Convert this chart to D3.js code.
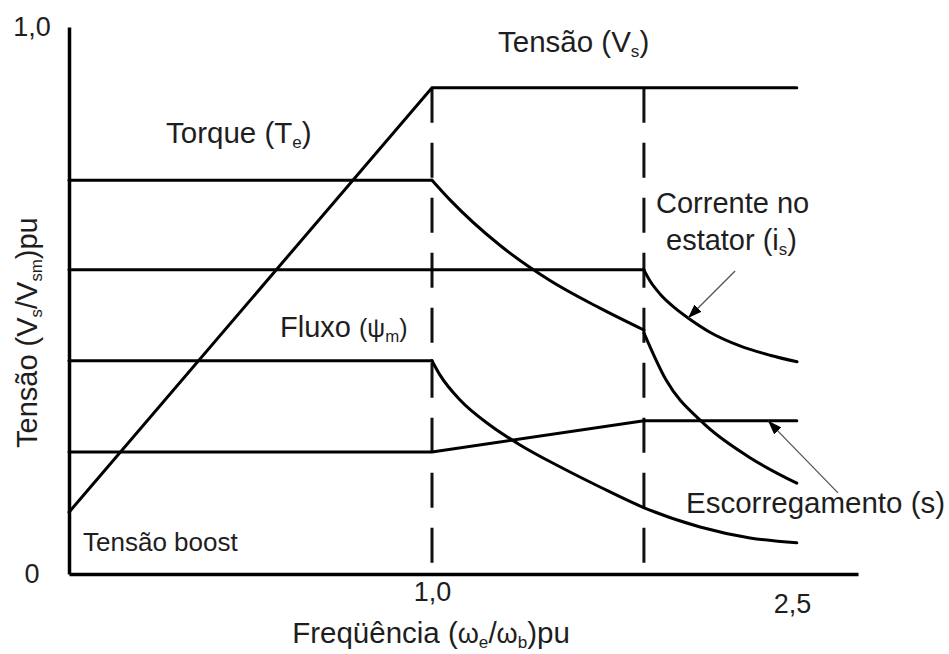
<!DOCTYPE html>
<html>
<head>
<meta charset="utf-8">
<script src="https://cdn.jsdelivr.net/npm/d3@7"></script>
<style>
  html, body { margin: 0; padding: 0; background: #fff; }
  svg { display: block; }
  text { font-family: "Liberation Sans", Arial, Helvetica, sans-serif; fill: #1e1e1e; }
</style>
</head>
<body>
<svg id="chart" width="949" height="654"></svg>
<script>
// Axis ticks (per-unit frequency and voltage)
const xTickValues = [1.0, 2.5];
const xTickLabels = ["1,0", "2,5"];
const yTickValues = [0, 1.0];
const yTickLabels = ["0", "1,0"];

// Region boundaries: base speed and start of the high-speed region
const breakFreq = [1.0, 1.883];

// Stator voltage: boost at standstill, linear V/f ramp, then constant
const vsFreq = [0, 1.0, 2.52];
const vsVal  = [0.113, 0.889, 0.889];

// Torque: constant, constant-power region, high-speed region
const torqueFreq  = [0, 1.0];
const torqueVal   = [0.72, 0.72];
const torqueCpFreq = [1.0, 1.075, 1.283, 1.49, 1.70, 1.883];
const torqueCpVal  = [0.72, 0.684, 0.601, 0.537, 0.486, 0.446];
const torqueHsFreq = [1.883, 1.975, 2.125, 2.32, 2.52];
const torqueHsVal  = [0.441, 0.355, 0.278, 0.214, 0.166];

// Stator current
const currentFreq = [0, 1.883];
const currentVal  = [0.556, 0.556];
const currentHsFreq = [1.883, 1.908, 1.95, 2.013, 2.067, 2.158, 2.283, 2.408, 2.521];
const currentHsVal  = [0.556, 0.536, 0.512, 0.486, 0.468, 0.442, 0.417, 0.400, 0.388];

// Air-gap flux
const fluxFreq = [0, 1.0];
const fluxVal  = [0.39, 0.39];
const fluxWeakFreq = [1.0, 1.033, 1.117, 1.242, 1.367, 1.533, 1.70, 1.879, 2.117, 2.325, 2.52];
const fluxWeakVal  = [0.39, 0.364, 0.318, 0.272, 0.236, 0.196, 0.159, 0.122, 0.086, 0.066, 0.057];

// Slip
const slipFreq = [0, 1.0, 1.883, 2.52];
const slipVal  = [0.223, 0.223, 0.280, 0.280];

const svg = d3.select("#chart");

const x = d3.scaleLinear().domain([0, 1, 2.775]).range([69, 432, 858]);
const y = d3.scaleLinear().domain([0, 1]).range([574, 27]);

const zip = (xs, ys) => xs.map((d, i) => [d, ys[i]]);

// Arrowhead marker for the callouts
svg.append("defs").append("marker")
  .attr("id", "arrowhead")
  .attr("viewBox", "0 0 14 10")
  .attr("refX", 14).attr("refY", 5)
  .attr("markerWidth", 14).attr("markerHeight", 10)
  .attr("markerUnits", "userSpaceOnUse")
  .attr("orient", "auto")
  .append("path").attr("d", "M0,0 L14,5 L0,10 Z").attr("fill", "#000");

// Dashed region boundaries
svg.append("g").selectAll("line").data(breakFreq).join("line")
  .attr("x1", d => x(d)).attr("x2", d => x(d))
  .attr("y1", y(vsVal[1])).attr("y2", y(0))
  .attr("stroke", "#111").attr("stroke-width", 3)
  .attr("stroke-dasharray", "35,20");

// Axes
const xAxis = svg.append("g").attr("transform", `translate(0,${y(0)})`)
  .call(d3.axisBottom(x).tickValues(xTickValues).tickSize(0).tickSizeOuter(0)
    .tickPadding(8).tickFormat((d, i) => xTickLabels[i]));
const yAxis = svg.append("g").attr("transform", `translate(${x(0)},0)`)
  .call(d3.axisLeft(y).tickValues(yTickValues).tickSize(0).tickSizeOuter(0)
    .tickPadding(37).tickFormat((d, i) => yTickLabels[i]));

[xAxis, yAxis].forEach(g => {
  g.select(".domain").attr("stroke", "#000").attr("stroke-width", 3.5);
  g.selectAll("text").attr("font-size", 27).attr("fill", "#1e1e1e")
    .style("font-family", '"Liberation Sans", Arial, sans-serif');
});
xAxis.selectAll(".tick text").attr("dy", (d, i) => i === 0 ? "0.71em" : "1.15em");
yAxis.selectAll(".tick text").attr("text-anchor", "middle");

// Curves
const straight = d3.line().x(d => x(d[0])).y(d => y(d[1]));
const smooth = d3.line().x(d => x(d[0])).y(d => y(d[1])).curve(d3.curveMonotoneX);

const series = [
  [straight, zip(vsFreq, vsVal)],
  [straight, zip(torqueFreq, torqueVal)],
  [smooth, zip(torqueCpFreq, torqueCpVal)],
  [smooth, zip(torqueHsFreq, torqueHsVal)],
  [straight, zip(currentFreq, currentVal)],
  [smooth, zip(currentHsFreq, currentHsVal)],
  [straight, zip(fluxFreq, fluxVal)],
  [smooth, zip(fluxWeakFreq, fluxWeakVal)],
  [straight, zip(slipFreq, slipVal)]
];
svg.append("g").selectAll("path").data(series).join("path")
  .attr("d", d => d[0](d[1]))
  .attr("fill", "none").attr("stroke", "#000").attr("stroke-width", 3)
  .attr("stroke-linejoin", "miter").attr("stroke-linecap", "round");

// Text with subscripts: parts are [text, isSubscript, fontSize]
function richText(parent, px, py, parts, size, anchor, rotate) {
  const t = parent.append("text")
    .attr("transform", `translate(${px},${py})` + (rotate ? ` rotate(${rotate})` : ""))
    .attr("font-size", size).attr("text-anchor", anchor || "start");
  const subSize = size * 0.58, shift = size * 0.16;
  let offset = 0;
  parts.forEach(([s, sub, sz]) => {
    const sp = t.append("tspan").text(s);
    const target = sub ? shift : 0;
    if (target !== offset) { sp.attr("dy", target - offset); offset = target; }
    if (sub) sp.attr("font-size", subSize);
    else if (sz) sp.attr("font-size", sz);
  });
  return t;
}

const g = svg.append("g");
richText(g, 498, 52, [["Tensão (V"], ["s", 1], [")"]], 29.5);
richText(g, 166, 143, [["Torque (T"], ["e", 1], [")"]], 29.5);
richText(g, 280, 337, [["Fluxo "], ["(ψ", 0, 25], ["m", 1], [")", 0, 25]], 29);
richText(g, 656, 213, [["Corrente no"]], 29);
richText(g, 666, 250, [["estator (i"], ["s", 1], [")"]], 29);
richText(g, 686, 513, [["Escorregamento (s)"]], 29.5);
richText(g, 83, 551, [["Tensão boost"]], 26);
richText(g, 37, 448, [["Tensão (V"], ["s", 1], ["/V"], ["sm", 1], [")pu"]], 29, "start", -90);
richText(g, 431, 643, [["Freqüência ("], ["ω", 0, 27], ["e", 1], ["/"], ["ω", 0, 27], ["b", 1], [")pu"]], 29.5, "middle");

// Callout arrows pointing at the stator current and slip curves
const callouts = [
  { tip: [currentHsFreq[4], currentHsVal[4]], dx: 47, dy: -47 },
  { tip: [2.40, slipVal[3]], dx: 70, dy: 72 }
];
svg.append("g").selectAll("line").data(callouts).join("line")
  .attr("x1", d => x(d.tip[0]) + d.dx).attr("y1", d => y(d.tip[1]) + d.dy)
  .attr("x2", d => x(d.tip[0])).attr("y2", d => y(d.tip[1]))
  .attr("stroke", "#555").attr("stroke-width", 1.3)
  .attr("marker-end", "url(#arrowhead)");
</script>
</body>
</html>
